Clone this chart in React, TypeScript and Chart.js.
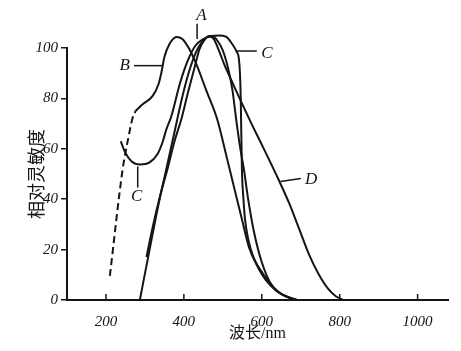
import React, { useEffect, useRef } from 'react';
import { Chart, registerables } from 'chart.js';

Chart.register(...registerables);

// Axis ticks
const xTickValues = [200, 400, 600, 800, 1000];
const yTickValues = [0, 20, 40, 60, 80, 100];

// Curve A
const waveA = [287, 312, 335, 355, 375, 395, 412, 430, 445, 462, 475, 488, 500, 515, 525, 534, 545, 554, 565, 580, 600, 625, 655, 690];
const sensA = [0, 20, 38, 52, 66, 80, 90, 98, 102, 104.5, 104.5, 102.5, 99, 91, 83, 72, 60, 52, 40, 27, 15, 6, 2, 0];

// Curve B (solid part)
const waveB = [276, 294, 320, 335, 343, 350, 363, 381, 396, 414, 432, 458, 485, 511, 530, 549, 567, 590, 610, 635, 660, 690];
const sensB = [75, 77.7, 81, 85.7, 90.8, 96.4, 101.6, 104.4, 103.6, 99.6, 93.6, 83, 72, 56, 44, 32, 21, 13, 8, 4, 1.5, 0];

// Curve B (dashed short-wave part)
const waveBDash = [210, 243, 257, 268, 276];
const sensBDash = [9.6, 52, 64, 72, 75];

// Curve C
const waveC = [238, 248, 266, 287, 312, 332, 345, 355, 368, 390, 410, 430, 450, 470, 490, 508, 524, 536, 541, 544, 546, 547, 549, 553, 557, 572, 605, 643, 670, 690];
const sensC = [63, 59, 55, 53.8, 54.6, 57.8, 62.5, 67.7, 73, 86, 95, 101, 103.5, 104.8, 105, 104.5, 101.6, 98.4, 96, 90, 80, 70, 52, 40, 32, 20, 10, 3.2, 1, 0];

// Curve D
const waveD = [304, 320, 340, 358, 376, 394, 410, 427, 440, 452, 465, 477, 490, 505, 524, 549, 575, 610, 643, 670, 694, 720, 745, 770, 790, 810];
const sensD = [17, 29, 42, 52, 63, 72, 82, 92, 99.5, 103, 104.8, 103.5, 99, 93, 86.5, 78, 69.5, 58.5, 47.8, 38.5, 29, 18.5, 10.5, 4.5, 1.5, 0];

// Curve labels (data coordinates) and their leader lines
const labelTexts = ['A', 'B', 'C', 'C', 'D'];
const labelX = [445, 248, 613, 279, 727];
const labelY = [112.7, 93, 98, 41, 47.8];
const leaderX1 = [434, 272, 534, 281.5, 648];
const leaderY1 = [109.6, 93, 98.8, 53, 47];
const leaderX2 = [434, 345, 587, 281.5, 700];
const leaderY2 = [103.6, 93, 98.8, 44.6, 48.2];

const toPoints = (xs: number[], ys: number[]) => xs.map((x, i) => ({ x, y: ys[i] }));

const INK = '#151515';
const SERIF = "'Liberation Serif', 'DejaVu Serif', serif";
const CJK = "'Liberation Serif', 'Noto Sans CJK SC', sans-serif";

const decorPlugin = {
  id: 'decor',
  afterDraw(chart: any) {
    const { ctx, scales, chartArea } = chart;
    const xs = scales.x;
    const ys = scales.y;
    ctx.save();
    ctx.strokeStyle = INK;
    ctx.fillStyle = INK;
    // inward x ticks
    ctx.lineWidth = 1.5;
    xTickValues.forEach((v) => {
      const px = xs.getPixelForValue(v);
      ctx.beginPath();
      ctx.moveTo(px, chartArea.bottom);
      ctx.lineTo(px, chartArea.bottom - 6);
      ctx.stroke();
    });
    // leader lines
    ctx.lineWidth = 1.5;
    labelTexts.forEach((_, i) => {
      ctx.beginPath();
      ctx.moveTo(xs.getPixelForValue(leaderX1[i]), ys.getPixelForValue(leaderY1[i]));
      ctx.lineTo(xs.getPixelForValue(leaderX2[i]), ys.getPixelForValue(leaderY2[i]));
      ctx.stroke();
    });
    // labels
    ctx.font = `italic 17px ${SERIF}`;
    ctx.textAlign = 'center';
    ctx.textBaseline = 'middle';
    labelTexts.forEach((t, i) => {
      ctx.fillText(t, xs.getPixelForValue(labelX[i]), ys.getPixelForValue(labelY[i]));
    });
    ctx.restore();
  },
};

export default function App() {
  const canvasRef = useRef<HTMLCanvasElement | null>(null);

  useEffect(() => {
    document.body.style.margin = '0';
    document.body.style.background = '#ffffff';
    const canvas = canvasRef.current;
    if (!canvas) return;

    const lineStyle = {
      showLine: true,
      borderColor: INK,
      backgroundColor: INK,
      borderWidth: 2,
      pointRadius: 0,
      pointHoverRadius: 0,
      cubicInterpolationMode: 'monotone' as const,
      fill: false,
      clip: false as any,
    };

    const chart = new Chart(canvas, {
      type: 'scatter',
      data: {
        datasets: [
          { ...lineStyle, label: 'A', data: toPoints(waveA, sensA) },
          { ...lineStyle, label: 'B', data: toPoints(waveB, sensB) },
          { ...lineStyle, label: 'B-dash', data: toPoints(waveBDash, sensBDash), borderDash: [7, 4] },
          { ...lineStyle, label: 'C', data: toPoints(waveC, sensC) },
          { ...lineStyle, label: 'D', data: toPoints(waveD, sensD) },
        ],
      },
      options: {
        animation: false,
        responsive: false,
        events: [],
        layout: { padding: { top: 48, right: 13, left: 0, bottom: 0 } },
        plugins: {
          legend: { display: false },
          tooltip: { enabled: false },
        },
        scales: {
          x: {
            type: 'linear',
            min: 100,
            max: 1078,
            afterBuildTicks: (axis: any) => {
              axis.ticks = xTickValues.map((value) => ({ value }));
            },
            afterFit: (scale: any) => {
              scale.height = 51;
            },
            grid: { display: false },
            border: { display: true, color: INK, width: 2 },
            ticks: {
              color: INK,
              padding: 5,
              maxRotation: 0,
              callback: (v: any) => String(v),
              font: { family: SERIF, size: 15, style: 'italic' },
            },
            title: {
              display: true,
              text: '波长/nm',
              color: INK,
              font: { family: CJK, size: 16 },
              padding: { top: 0, bottom: 8 },
            },
          },
          y: {
            type: 'linear',
            min: 0,
            max: 100,
            afterBuildTicks: (axis: any) => {
              axis.ticks = yTickValues.map((value) => ({ value }));
            },
            afterFit: (scale: any) => {
              scale.width = 67;
            },
            grid: {
              display: true,
              drawOnChartArea: false,
              drawTicks: true,
              tickLength: 6,
              color: INK,
              lineWidth: 1.5,
            },
            border: { display: true, color: INK, width: 2 },
            ticks: {
              color: INK,
              padding: 3,
              callback: (v: any) => String(v),
              font: { family: SERIF, size: 15, style: 'italic' },
            },
            title: {
              display: true,
              text: '相对灵敏度',
              color: INK,
              font: { family: CJK, size: 18 },
              padding: { top: 27, bottom: 0 },
            },
          },
        },
      },
      plugins: [decorPlugin],
    });

    return () => {
      chart.destroy();
    };
  }, []);

  return (
    <div style={{ width: 461, height: 351, overflow: 'hidden', background: '#ffffff' }}>
      <canvas ref={canvasRef} width={461} height={351} style={{ display: 'block' }} />
    </div>
  );
}
